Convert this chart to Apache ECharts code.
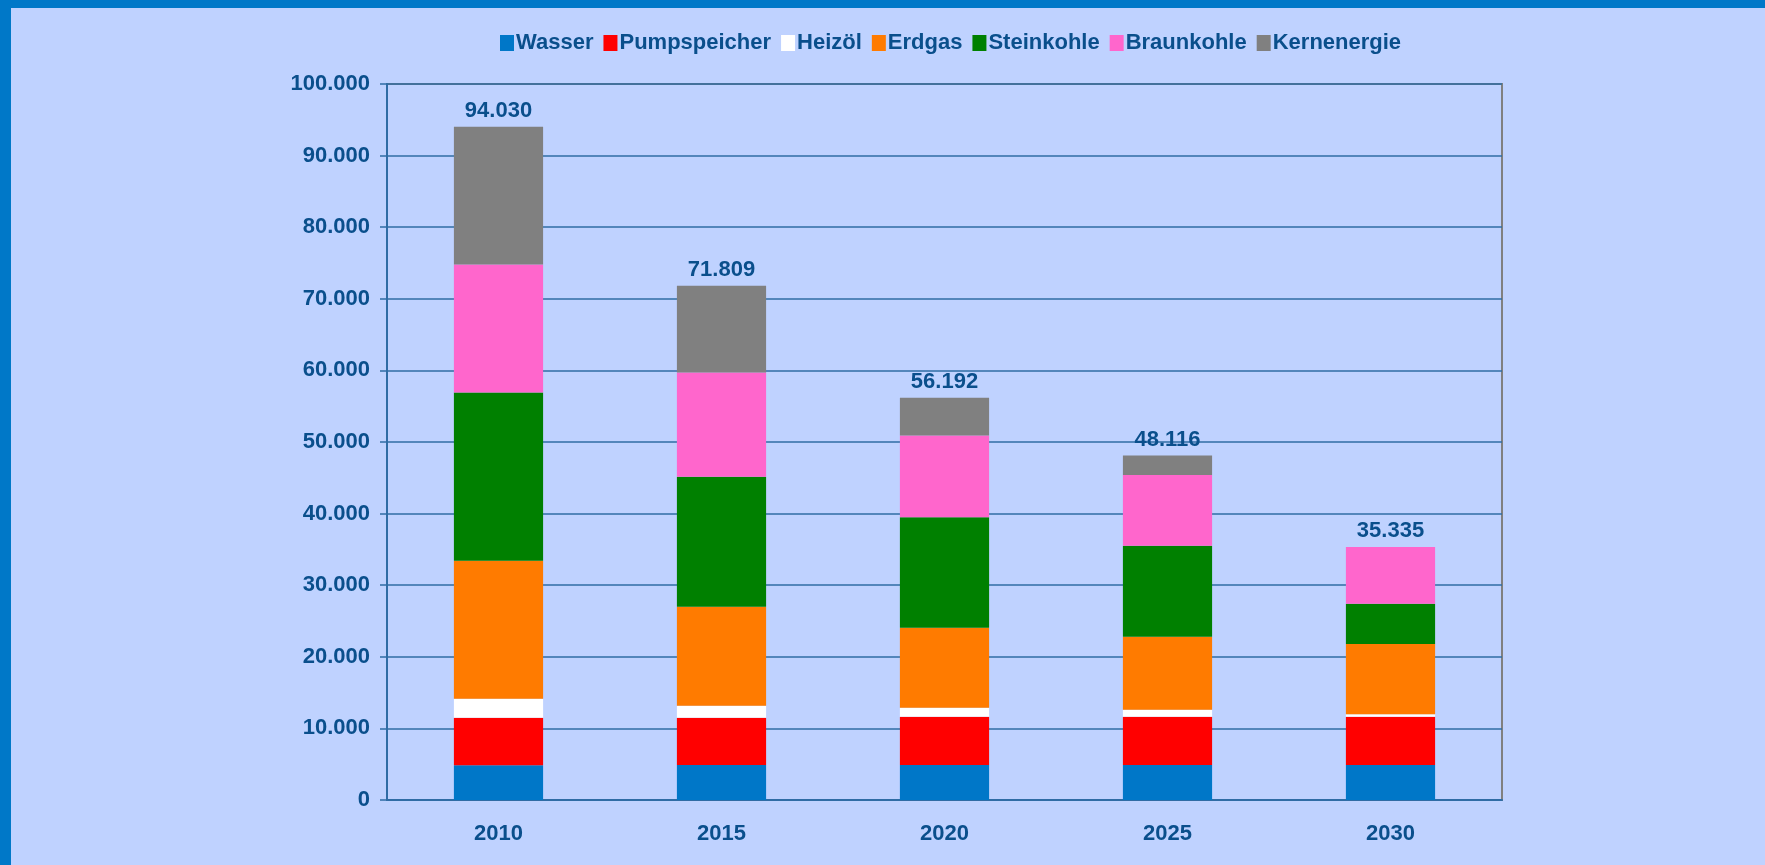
<!DOCTYPE html>
<html>
<head>
<meta charset="utf-8">
<script src="https://cdn.jsdelivr.net/npm/echarts@6/dist/echarts.min.js"></script>
<style>
  html, body { margin: 0; padding: 0; }
  #wrap { position: relative; width: 1765px; height: 865px; background: #bfd2ff; overflow: hidden; }
  #chart { position: absolute; left: 0; top: 0; width: 1765px; height: 865px; }
  .edge { position: absolute; background: #0078c8; }
</style>
</head>
<body>
<div id="wrap">
  <div id="chart"></div>
  <div class="edge" style="left:0;top:0;width:1765px;height:8px"></div>
  <div class="edge" style="left:0;top:0;width:11px;height:865px"></div>
</div>
<script>
// Jahre
var years = ['2010', '2015', '2020', '2025', '2030'];

// Leistung je Energieträger (MW)
var wasser     = [4850, 4900, 4900, 4900, 4900];
var pumpspeicher = [6650, 6600, 6730, 6740, 6740];
var heizoel    = [2650, 1670, 1270, 960, 320];
var erdgas     = [19250, 13830, 11160, 10200, 9840];
var steinkohle = [23500, 18150, 15440, 12700, 5600];
var braunkohle = [17900, 14550, 11400, 9900, 7935];
var kernenergie = [19230, 12109, 5292, 2716, 0];

// Summen über den Säulen
var totals = [94030, 71809, 56192, 48116, 35335];

var textColor = '#0a4f8c';
var font = 'Liberation Sans, Arial, sans-serif';

function fmt(v) {
  return String(v).replace(/\B(?=(\d{3})+(?!\d))/g, '.');
}

var chart = echarts.init(document.getElementById('chart'));

function bar(name, data, color) {
  return {
    name: name,
    type: 'bar',
    stack: 'total',
    barWidth: '40%',
    data: data,
    itemStyle: { color: color },
    emphasis: { disabled: true }
  };
}

var series = [
  bar('Wasser', wasser, '#0077c8'),
  bar('Pumpspeicher', pumpspeicher, '#ff0000'),
  bar('Heizöl', heizoel, '#ffffff'),
  bar('Erdgas', erdgas, '#ff7b00'),
  bar('Steinkohle', steinkohle, '#008000'),
  bar('Braunkohle', braunkohle, '#ff66cc'),
  bar('Kernenergie', kernenergie, '#808080')
];

// unsichtbare Reihe nur für die Summenbeschriftung
series.push({
  name: 'Summe',
  type: 'bar',
  stack: 'total',
  barWidth: '40%',
  silent: true,
  data: years.map(function () { return 0; }),
  itemStyle: { color: 'transparent' },
  label: {
    show: true,
    position: 'top',
    distance: 5,
    color: textColor,
    fontFamily: font,
    fontWeight: 'bold',
    fontSize: 22,
    formatter: function (p) { return fmt(totals[p.dataIndex]); }
  }
});

var option = {
  animation: false,
  backgroundColor: '#bfd2ff',
  legend: {
    data: ['Wasser', 'Pumpspeicher', 'Heizöl', 'Erdgas', 'Steinkohle', 'Braunkohle', 'Kernenergie'],
    top: 27,
    left: 495,
    itemWidth: 14,
    itemHeight: 16,
    itemGap: 10,
    icon: 'rect',
    selectedMode: false,
    textStyle: {
      color: textColor,
      fontFamily: font,
      fontWeight: 'bold',
      fontSize: 22,
      padding: [0, 0, 0, -3]
    }
  },
  grid: {
    left: 387,
    right: 263,
    top: 84,
    bottom: 65,
    show: true,
    borderColor: '#808080',
    borderWidth: 2,
    backgroundColor: 'transparent'
  },
  xAxis: {
    type: 'category',
    data: years,
    axisLine: { lineStyle: { color: '#2f6ca5', width: 2 } },
    axisTick: { length: 7, lineStyle: { color: '#2f6ca5', width: 1.5 } },
    axisLabel: {
      margin: 23,
      color: textColor,
      fontFamily: font,
      fontWeight: 'bold',
      fontSize: 22
    }
  },
  yAxis: {
    type: 'value',
    min: 0,
    max: 100000,
    interval: 10000,
    axisLine: { show: true, lineStyle: { color: '#2f6ca5', width: 2 } },
    axisTick: { show: true, length: 7, lineStyle: { color: '#2f6ca5', width: 1.5 } },
    splitLine: { lineStyle: { color: '#2f6ca5', width: 1.5 } },
    axisLabel: {
      margin: 17,
      color: textColor,
      fontFamily: font,
      fontWeight: 'bold',
      fontSize: 22,
      formatter: fmt
    }
  },
  series: series
};

chart.setOption(option);
</script>
</body>
</html>
